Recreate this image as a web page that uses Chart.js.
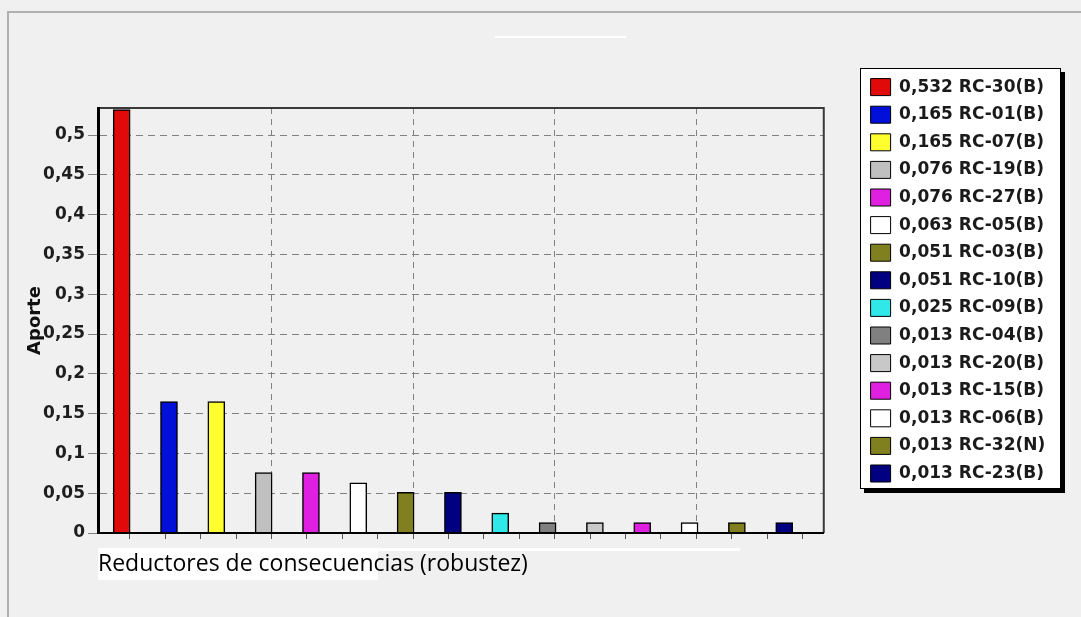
<!DOCTYPE html>
<html>
<head>
<meta charset="utf-8">
<script src="https://cdn.jsdelivr.net/npm/chart.js@4.4.0/dist/chart.umd.min.js"></script>
<style>
  html, body { margin: 0; padding: 0; background: #f0f0f0; }
  #wrap { width: 1081px; height: 617px; }
</style>
</head>
<body>
<div id="wrap"><canvas id="chart" width="1081" height="617"></canvas></div>
<script>
// === data ===
const categories = ['RC-30(B)','RC-01(B)','RC-07(B)','RC-19(B)','RC-27(B)','RC-05(B)','RC-03(B)',
                    'RC-10(B)','RC-09(B)','RC-04(B)','RC-20(B)','RC-15(B)','RC-06(B)','RC-32(N)','RC-23(B)'];
const aporte     = [0.532,0.165,0.165,0.076,0.076,0.063,0.051,0.051,0.025,0.013,0.013,0.013,0.013,0.013,0.013];
const yTicks     = [0,0.05,0.1,0.15,0.2,0.25,0.3,0.35,0.4,0.45,0.5];

// === styles ===
const barColors = ['#e00a0a','#0010d8','#ffff30','#c0c0c0','#e020e0','#ffffff','#808020',
                   '#000080','#30e8e8','#808080','#c8c8c8','#e020e0','#ffffff','#808020','#000080'];
const boldFont = { family: '"DejaVu Sans", sans-serif', size: 17, weight: 'bold' };
const comma = (v, d) => (d == null ? String(parseFloat(v.toFixed(2))) : v.toFixed(d)).replace('.', ',');

// decorations: outer frame, legend box with shadow, plot frame
const frame = {
  id: 'frame',
  afterLayout(chart) {
    const lg = chart.legend;
    const w = lg.width;
    lg.left = 860; lg.right = 860 + w;
    lg.top = 68;   lg.bottom = 617;
  },
  beforeDraw(chart) {
    const c = chart.ctx;
    c.save();
    c.fillStyle = '#b0b0b0';
    c.fillRect(7, 11, 1074, 2);
    c.fillRect(7, 11, 2, 606);
    c.fillStyle = '#ffffff';
    c.fillRect(495, 36, 131, 2);
    // strip behind x title
    c.fillRect(98, 548, 642, 3);
    c.fillRect(98, 548, 280, 32);
    // legend box
    c.fillStyle = '#000';
    c.fillRect(864, 72, 201, 421);
    c.fillStyle = '#fff';
    c.fillRect(860, 68, 201, 421);
    c.strokeStyle = '#000'; c.lineWidth = 1;
    c.strokeRect(860.5, 68.5, 200, 420);
    c.restore();
  },
  beforeDatasetsDraw(chart) {
    const {left, right, top, bottom} = chart.chartArea;
    const c = chart.ctx;
    c.save();
    c.strokeStyle = '#3a3a3a'; c.lineWidth = 2;
    c.beginPath();
    c.moveTo(left, top); c.lineTo(right, top); c.lineTo(right, bottom);
    c.stroke();
    c.restore();
  }
};

new Chart(document.getElementById('chart'), {
  type: 'bar',
  data: {
    labels: categories,
    datasets: [{
      label: 'Aporte',
      data: aporte.map((v, i) => ({ x: i, y: v })),
      backgroundColor: barColors,
      borderColor: '#000',
      borderWidth: 1.5,
      barThickness: 17
    }]
  },
  options: {
    responsive: false,
    animation: false,
    layout: { padding: { left: 8, top: 108, right: 62, bottom: 0 } },
    plugins: {
      tooltip: { enabled: false },
      legend: {
        position: 'right',
        align: 'start',
        onClick: null,
        labels: {
          boxWidth: 20, boxHeight: 17, padding: 10.6,
          color: '#1a1a1a',
          font: boldFont,
          generateLabels: () => categories.map((c, i) => ({
            text: comma(aporte[i], 3) + ' ' + c,
            fillStyle: barColors[i], strokeStyle: '#000', lineWidth: 1,
            fontColor: '#1a1a1a', hidden: false, index: i
          }))
        }
      }
    },
    scales: {
      x: {
        type: 'linear', min: -0.5, max: 14.836, offset: false,
        afterBuildTicks: s => {
          const t = [];
          for (let k = 0; k < 20; k++) t.push({ value: 0.176 + k * 0.7478, major: k > 0 && k % 4 === 0 });
          s.ticks = t;
        },
        afterFit: s => { s.height = 84; },
        ticks: { display: false },
        grid: {
          offset: false,
          color: ctx => (ctx.tick && ctx.tick.major ? '#808080' : 'rgba(0,0,0,0)'),
          tickColor: '#555', tickLength: 6, lineWidth: 1
        },
        border: { color: '#000', width: 2, dash: [6, 5], z: 1 },
        title: {
          display: true, align: 'start',
          text: 'Reductores de consecuencias (robustez)',
          color: '#000',
          font: { family: '"Open Sans", sans-serif', size: 23 },
          padding: { top: 0, bottom: 39 }
        }
      },
      y: {
        min: 0, max: 0.534,
        afterBuildTicks: s => { s.ticks = yTicks.map(v => ({ value: v })); },
        afterFit: s => { s.width = 90; },
        ticks: { callback: v => comma(v), color: '#1e1e1e', font: boldFont, padding: 3 },
        grid: { color: '#808080', tickColor: '#808080', tickLength: 10 },
        border: { color: '#000', width: 3, dash: [7, 5], z: 1 },
        title: {
          display: true, text: 'Aporte', color: '#111',
          font: { family: '"DejaVu Sans", sans-serif', size: 18, weight: 'bold' },
          padding: { top: 17, bottom: 0 }
        }
      }
    }
  },
  plugins: [frame]
});
</script>
</body>
</html>
